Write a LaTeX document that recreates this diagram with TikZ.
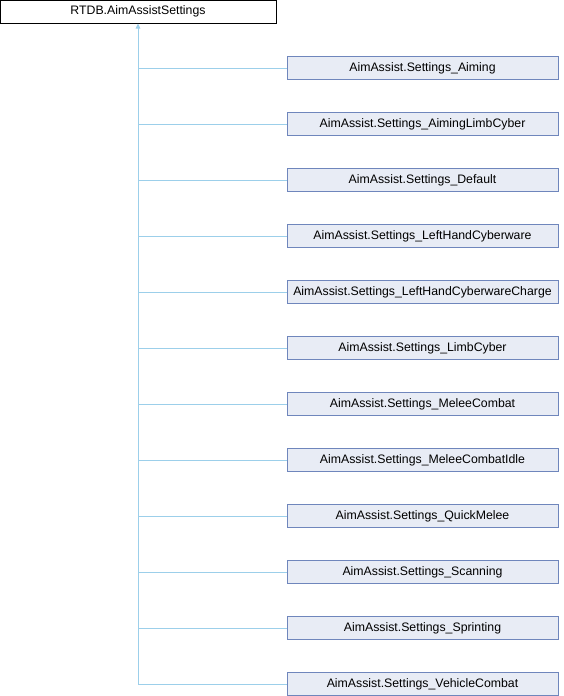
\documentclass[tikz,border=0pt]{standalone}
\usepackage{fontspec}
\setmainfont{Liberation Sans}
\usetikzlibrary{arrows.meta}
\definecolor{edgeblue}{HTML}{9CCFEA}
\definecolor{boxfill}{HTML}{E8ECF5}
\definecolor{boxline}{HTML}{6F86BC}
\begin{document}
\begin{tikzpicture}[x=1pt,y=-1pt,
  rootbox/.style={draw=black,fill=white,line width=1pt,minimum width=276pt,minimum height=23pt,inner sep=0pt,font=\fontsize{12.3}{14}\selectfont,anchor=center},
  childbox/.style={draw=boxline,fill=boxfill,line width=1pt,minimum width=271pt,minimum height=23pt,inner sep=0pt,font=\fontsize{12.3}{14}\selectfont,anchor=center},
  edge/.style={draw=edgeblue,line width=1pt}]
\useasboundingbox (0,0) rectangle (564,696);
\node[rootbox] (root) at (138,11.5) {RTDB.AimAssistSettings};
\foreach \i/\name in {0/Aiming,1/AimingLimbCyber,2/Default,3/LeftHandCyberware,4/LeftHandCyberwareCharge,5/LimbCyber,6/MeleeCombat,7/MeleeCombatIdle,8/QuickMelee,9/Scanning,10/Sprinting,11/VehicleCombat}{
  \node[childbox] (c\i) at (422.5,68+56*\i) {AimAssist.Settings\_\name};
  \coordinate (j\i) at (138,68+56*\i);
  \draw[edge] (c\i.west) -- (j\i);
}
\draw[edge,-{Triangle[length=5pt,width=4.5pt]}] (j11) -- (root.south);
\end{tikzpicture}
\end{document}
